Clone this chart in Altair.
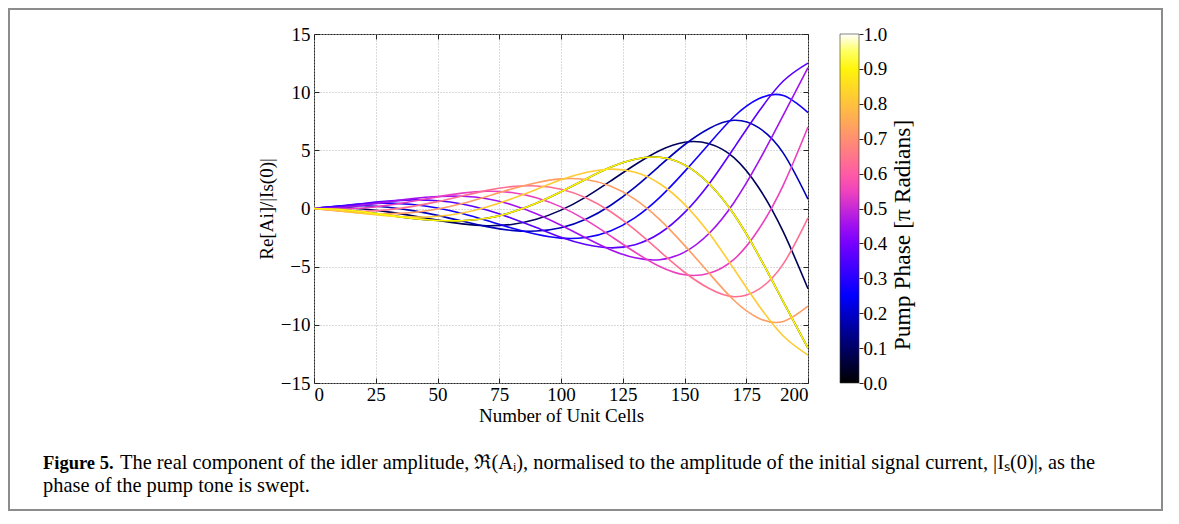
import altair as alt
import pandas as pd

# ---------------- data ----------------
cells = [0, 10, 20, 30, 40, 50, 60, 70, 80, 90, 100,
         110, 120, 130, 140, 150, 160, 170, 180, 190, 200]

phase_ticks = [0.0, 0.1, 0.2, 0.3, 0.4, 0.5, 0.6, 0.7, 0.8, 0.9, 1.0]
# position of each line's colour on the colour map
cmap_pos = [0.0, 0.0909, 0.1818, 0.2727, 0.3636, 0.4545,
            0.5455, 0.6364, 0.7273, 0.8182, 0.9091]

re_p00 = [0, -0.07, -0.29, -0.57, -0.85, -1.03, -1.05, -0.84, -0.33, 0.45, 1.44,
          2.52, 3.54, 4.24, 4.40, 3.75, 2.13, -0.50, -4.02, -8.02, -12.0]
re_p01 = [0, 0.06, -0.04, -0.29, -0.63, -1.00, -1.32, -1.48, -1.37, -0.93, -0.14,
          0.98, 2.35, 3.76, 4.99, 5.70, 5.57, 4.38, 1.81, -2.01, -6.9]
re_p02 = [0, 0.18, 0.23, 0.11, -0.18, -0.59, -1.08, -1.56, -1.88, -1.94, -1.66,
          -0.93, 0.26, 1.84, 3.68, 5.48, 6.88, 7.58, 6.95, 4.76, 0.8]
re_p03 = [0, 0.22, 0.41, 0.46, 0.35, 0.05, -0.43, -1.04, -1.68, -2.22, -2.55,
          -2.49, -1.93, -0.78, 0.96, 3.17, 5.57, 7.89, 9.43, 9.71, 8.25]
re_p04 = [0, 0.18, 0.43, 0.63, 0.74, 0.67, 0.39, -0.13, -0.83, -1.64, -2.47,
          -3.10, -3.38, -3.11, -2.13, -0.36, 2.13, 5.19, 8.31, 10.96, 12.5]
re_p05 = [0, 0.07, 0.29, 0.57, 0.85, 1.03, 1.05, 0.84, 0.33, -0.45, -1.44,
          -2.52, -3.54, -4.24, -4.40, -3.75, -2.13, 0.50, 4.02, 8.02, 12.1]
re_p06 = [0, -0.06, 0.04, 0.29, 0.63, 1.00, 1.32, 1.48, 1.37, 0.93, 0.14,
          -0.98, -2.35, -3.76, -4.99, -5.70, -5.57, -4.38, -1.81, 2.01, 7.0]
re_p07 = [0, -0.18, -0.23, -0.11, 0.18, 0.59, 1.08, 1.56, 1.88, 1.94, 1.66,
          0.93, -0.26, -1.84, -3.68, -5.48, -6.88, -7.58, -6.95, -4.76, -0.8]
re_p08 = [0, -0.22, -0.41, -0.46, -0.35, -0.05, 0.43, 1.04, 1.68, 2.22, 2.55,
          2.49, 1.93, 0.78, -0.96, -3.17, -5.57, -7.89, -9.43, -9.71, -8.4]
re_p09 = [0, -0.18, -0.43, -0.63, -0.74, -0.67, -0.39, 0.13, 0.83, 1.64, 2.47,
          3.10, 3.38, 3.11, 2.13, 0.36, -2.13, -5.19, -8.31, -10.96, -12.6]
re_p10 = [0, -0.07, -0.29, -0.57, -0.85, -1.03, -1.05, -0.84, -0.33, 0.45, 1.44,
          2.52, 3.54, 4.24, 4.40, 3.75, 2.13, -0.50, -4.02, -8.02, -12.0]

series = [re_p00, re_p01, re_p02, re_p03, re_p04, re_p05,
          re_p06, re_p07, re_p08, re_p09, re_p10]

x_ticks = [0, 25, 50, 75, 100, 125, 150, 175, 200]
y_ticks = [-15, -10, -5, 0, 5, 10, 15]
# colour-bar tick positions expressed on the shared y scale (0.0 -> -15, 1.0 -> 15)
cbar_tick_pos = [-15, -12, -9, -6, -3, 0, 3, 6, 9, 12, 15]

x_title = "Number of Unit Cells"
y_title = "Re[Ai]/|Is(0)|"
cbar_title = "Pump Phase [π Radians]"
caption_bold = ["Figure 5."]
caption_l1 = ["The real component of the idler amplitude, ℜ(Aᵢ), normalised to the amplitude of the initial signal current, |Iₛ(0)|, as the"]
caption_l2 = ["phase of the pump tone is swept."]

# gnuplot2 colour map break points
cmap_domain = [0.0, 0.25, 0.42, 0.57, 0.92, 1.0]
cmap_range = ["#000000", "#0000ff", "#8700ff", "#ff4db3", "#ffff00", "#ffffff"]

rows = []
for k, vals in enumerate(series):
    for n, v in zip(cells, vals):
        rows.append({"n": n, "v": v, "s": f"s{k:02d}", "c": cmap_pos[k]})
df = pd.DataFrame(rows)

W, H = 494, 349
FONT = "Liberation Serif"
FS = 19
xs = alt.Scale(domain=[0, 200], nice=False, zero=False)
ys = alt.Scale(domain=[-15, 15], nice=False, zero=False)
neg_label = "datum.value < 0 ? '\u2212' + abs(datum.value) : datum.label"
cbar_label = "format((datum.value + 15) / 30, '.1f')"

lines = alt.Chart(df).mark_line(strokeWidth=1.6, interpolate="natural").encode(
    x=alt.X("n:Q", scale=xs, axis=alt.Axis(
        orient="bottom", values=x_ticks, grid=True, ticks=False, domain=False,
        labelPadding=2, title=x_title, titlePadding=2,
        gridColor="#b5b5b5", gridDash=[1, 2], gridWidth=1)),
    y=alt.Y("v:Q", scale=ys, axis=alt.Axis(
        orient="left", values=y_ticks, grid=True, ticks=False, domain=False,
        labelPadding=4, title=y_title, titlePadding=4, labelExpr=neg_label,
        gridColor="#b5b5b5", gridDash=[1, 2], gridWidth=1)),
    color=alt.Color("c:Q", scale=alt.Scale(domain=cmap_domain, range=cmap_range, interpolate="rgb"),
                    legend=alt.Legend(orient="none", legendX=526, legendY=0, direction="vertical",
                                      gradientLength=H, gradientThickness=19, values=phase_ticks,
                                      title=None, labelExpr="''", labelOpacity=0,
                                      gradientStrokeColor="#333", gradientStrokeWidth=0.6)),
    detail="s:N",
)

tick_style = dict(labels=False, grid=False, domain=False, tickSize=5, tickColor="#222", title=None)

ticks_a = alt.Chart(df).mark_point(opacity=0).encode(
    x=alt.X("n:Q", scale=xs, axis=alt.Axis(orient="top", offset=-H, values=x_ticks, **tick_style)),
    y=alt.Y("v:Q", scale=ys, axis=alt.Axis(orient="right", offset=-W, values=y_ticks, **tick_style)),
)
ticks_b = alt.Chart(df).mark_point(opacity=0).encode(
    x=alt.X("n:Q", scale=xs, axis=alt.Axis(orient="bottom", offset=-H, values=x_ticks, **tick_style)),
    y=alt.Y("v:Q", scale=ys, axis=alt.Axis(orient="left", offset=-W, values=y_ticks, **tick_style)),
)
# ticks and labels on the right edge of the colour bar
ticks_c = alt.Chart(df).mark_point(opacity=0).encode(
    y=alt.Y("v:Q", scale=ys, axis=alt.Axis(orient="right", offset=526 + 19 - W, values=cbar_tick_pos,
                                           labels=True, labelExpr=cbar_label, labelPadding=0,
                                           grid=False, domain=False, tickSize=4,
                                           tickColor="#222", title=None)),
)

cbar_txt = alt.Chart(pd.DataFrame({"t": [cbar_title]})).mark_text(
    font=FONT, fontSize=23.5, angle=270, align="center", baseline="middle", color="black"
).encode(x=alt.value(589), y=alt.value(201), text="t:N")

cap_b = alt.Chart(pd.DataFrame({"t": caption_bold})).mark_text(
    font=FONT, fontSize=18.5, fontWeight="bold", align="left", baseline="middle", color="black"
).encode(x=alt.value(-271), y=alt.value(429), text="t:N")
cap_1 = alt.Chart(pd.DataFrame({"t": caption_l1})).mark_text(
    font=FONT, fontSize=20.4, align="left", baseline="middle", color="black"
).encode(x=alt.value(-194), y=alt.value(429), text="t:N")
cap_2 = alt.Chart(pd.DataFrame({"t": caption_l2})).mark_text(
    font=FONT, fontSize=20.4, align="left", baseline="middle", color="black"
).encode(x=alt.value(-271), y=alt.value(452), text="t:N")

border = alt.Chart(pd.DataFrame({"t": [""]})).mark_rect(
    fillOpacity=0, stroke="#8c8c8c", strokeWidth=2
).encode(x=alt.value(-305), x2=alt.value(848), y=alt.value(-25), y2=alt.value(476))

chart = alt.layer(border, lines, ticks_a, ticks_b, ticks_c, cbar_txt, cap_b, cap_1, cap_2).resolve_axis(
    x="independent", y="independent"
).properties(
    width=W, height=H,
    autosize=alt.AutoSizeParams(type="none"),
    padding={"left": 306, "top": 26, "right": 363, "bottom": 129},
).configure_view(
    stroke="#222", strokeWidth=1
).configure_axis(
    labelFont=FONT, labelFontSize=FS, labelColor="black",
    titleFont=FONT, titleFontSize=FS, titleColor="black", titleFontWeight="normal",
).configure_legend(
    gradientVerticalMaxLength=H
)

chart.save("out.html", embed_options={"renderer": "svg", "actions": False})
